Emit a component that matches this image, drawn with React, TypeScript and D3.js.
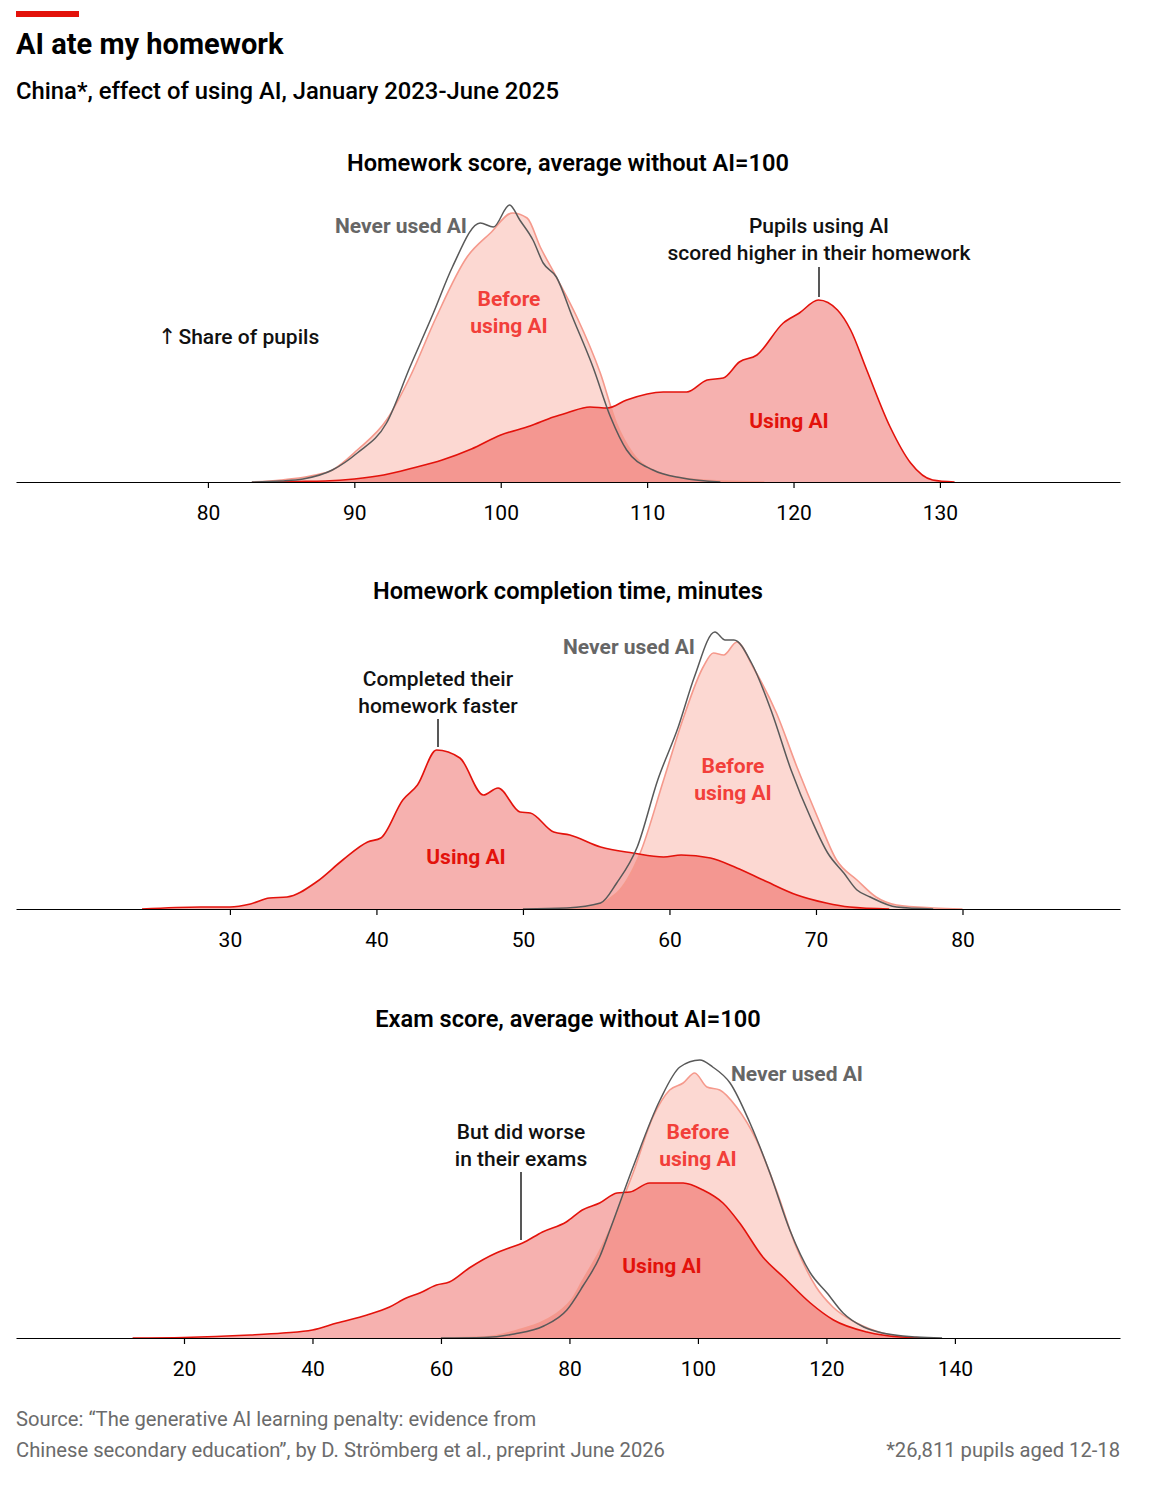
import React, { useEffect, useRef } from 'react';
import * as d3 from 'd3';

type Pt = [number, number];

// share of pupils (%)
const scoreNever: Pt[] = [[83, 0], [85, 0.01], [86.5, 0.03], [88.5, 0.12], [90.2, 0.29], [92.2, 0.59], [93.8, 1.15], [95.4, 1.69], [96.7, 2.15], [98.6, 2.59], [99.5, 2.55], [100.6, 2.77], [101.3, 2.62], [102.2, 2.42], [102.9, 2.19], [103.8, 2.05], [104.9, 1.65], [106.3, 1.15], [107.5, 0.65], [108.6, 0.32], [110.4, 0.12], [112.4, 0.04], [115, 0]];
const scoreBefore: Pt[] = [[83, 0], [85, 0.02], [87, 0.06], [88.5, 0.12], [90.2, 0.32], [92.2, 0.62], [93.8, 1.05], [95.6, 1.65], [97.7, 2.25], [99.3, 2.49], [100.8, 2.69], [101.8, 2.64], [102.7, 2.35], [103.8, 2.05], [105.2, 1.65], [106.8, 1.09], [107.9, 0.59], [109, 0.29], [110.9, 0.09], [112.4, 0.04], [115, 0.01], [118, 0]];
const scoreUsing: Pt[] = [[84, 0], [86, 0.005], [88, 0.01], [90, 0.03], [92, 0.07], [94, 0.14], [96, 0.22], [98, 0.33], [100, 0.47], [102, 0.56], [103.6, 0.65], [104.5, 0.69], [106.1, 0.75], [107.3, 0.74], [108.6, 0.82], [111.1, 0.9], [112.7, 0.9], [114.1, 1.02], [115.2, 1.04], [116.3, 1.2], [117.5, 1.27], [119.3, 1.59], [120.4, 1.69], [121.7, 1.82], [123, 1.72], [123.9, 1.52], [125, 1.12], [126.6, 0.55], [128, 0.19], [129.5, 0.02], [131, 0]];

const timeNever: Pt[] = [[50, 0], [53, 0.01], [55.3, 0.06], [56.4, 0.26], [57.8, 0.62], [59.2, 1.29], [60.6, 1.82], [61.7, 2.32], [63.1, 2.77], [63.8, 2.69], [64.4, 2.69], [65.6, 2.46], [67, 1.96], [68.3, 1.39], [69.7, 0.89], [70.8, 0.56], [71.9, 0.36], [72.8, 0.19], [73.7, 0.12], [75.5, 0.02], [78, 0]];
const timeBefore: Pt[] = [[50, 0], [54.1, 0.01], [56.4, 0.16], [58, 0.56], [59.6, 1.29], [60.9, 1.89], [62.3, 2.42], [63, 2.56], [63.7, 2.54], [64.6, 2.67], [65.7, 2.42], [67.3, 1.96], [68.7, 1.42], [70.1, 0.92], [71.4, 0.49], [72.8, 0.29], [74.1, 0.12], [75.5, 0.04], [78, 0.01], [80, 0]];
const timeUsing: Pt[] = [[24, 0], [28, 0.02], [30, 0.02], [31.4, 0.05], [32.7, 0.11], [33.9, 0.12], [35.9, 0.27], [37.7, 0.49], [39.4, 0.67], [40.3, 0.71], [41.8, 1.09], [42.8, 1.24], [44.1, 1.59], [45.7, 1.51], [47.3, 1.14], [48.3, 1.21], [49.8, 0.97], [50.5, 0.96], [52.1, 0.77], [53.2, 0.74], [55.3, 0.62], [57.5, 0.56], [59.6, 0.52], [60.8, 0.54], [62.8, 0.51], [64.6, 0.41], [66.4, 0.29], [68.7, 0.14], [70.7, 0.06], [72.3, 0.02], [75, 0]];

const examNever: Pt[] = [[60, 0], [66.7, 0.005], [71.4, 0.04], [76, 0.12], [79.6, 0.28], [82.1, 0.52], [84.7, 0.81], [86.3, 1.08], [89.9, 1.71], [94.1, 2.38], [97.2, 2.71], [100.3, 2.78], [102.3, 2.71], [105, 2.55], [108.1, 2.15], [111.2, 1.65], [114.3, 1.08], [117.5, 0.65], [120.1, 0.45], [122.6, 0.25], [125.8, 0.11], [128.7, 0.05], [134, 0.01], [138, 0]];
const examBefore: Pt[] = [[60, 0], [66.7, 0.01], [72, 0.08], [76, 0.17], [78.5, 0.27], [80.3, 0.38], [82, 0.57], [85, 0.91], [89.9, 1.65], [93, 2.21], [95.6, 2.48], [97.7, 2.55], [99.5, 2.65], [101.4, 2.51], [103.4, 2.48], [106, 2.31], [109.1, 1.98], [112.2, 1.48], [115.3, 0.91], [118.4, 0.51], [121, 0.31], [124.7, 0.15], [128.7, 0.05], [134, 0]];
const examUsing: Pt[] = [[12, 0], [20, 0.005], [30.3, 0.03], [35.4, 0.05], [40, 0.08], [43.8, 0.15], [48.5, 0.23], [52, 0.31], [54.6, 0.4], [56.7, 0.45], [59.3, 0.53], [61.3, 0.56], [64.4, 0.7], [68.6, 0.85], [70.6, 0.9], [72.7, 0.95], [75.8, 1.06], [79.5, 1.16], [82, 1.28], [84.7, 1.35], [87.4, 1.45], [89.4, 1.46], [92.5, 1.55], [96.1, 1.55], [97.7, 1.55], [100.8, 1.48], [103.9, 1.35], [106.5, 1.15], [110.1, 0.81], [113.3, 0.61], [117.5, 0.35], [121.1, 0.18], [126.3, 0.06], [131.5, 0.01], [136, 0]];

const scoreTicks = [80, 90, 100, 110, 120, 130];
const timeTicks = [30, 40, 50, 60, 70, 80];
const examTicks = [20, 40, 60, 80, 100, 120, 140];

const colors = {
  red: '#e3120b',
  before: '#fcd8d2',
  beforeLine: '#f5998c',
  beforeText: '#f23f3a',
  never: '#595959',
  neverText: '#666666',
  footer: '#6b6b6b',
};

const font = 'Roboto, "Noto Sans", sans-serif';

type Note = { text: string[]; x: number; y: number; anchor: string; color: string; weight: number; line?: [number, number] };

type Panel = {
  title: string;
  axisY: number;
  titleY: number;
  domain: [number, number];
  ticks: number[];
  never: Pt[];
  before: Pt[];
  using: Pt[];
  notes: Note[];
};

const panels: Panel[] = [
  {
    title: 'Homework score, average without AI=100', titleY: 171, axisY: 482,
    domain: [66.89, 142.3], ticks: scoreTicks, never: scoreNever, before: scoreBefore, using: scoreUsing,
    notes: [
      { text: ['Never used AI'], x: 467, y: 233, anchor: 'end', color: colors.neverText, weight: 700 },
      { text: ['Before', 'using AI'], x: 509, y: 306, anchor: 'middle', color: colors.beforeText, weight: 700 },
      { text: ['Using AI'], x: 789, y: 428, anchor: 'middle', color: colors.red, weight: 700 },
      { text: ['Pupils using AI', 'scored higher in their homework'], x: 819, y: 233, anchor: 'middle', color: '#111', weight: 500, line: [267, 297] },
    ],
  },
  {
    title: 'Homework completion time, minutes', titleY: 599, axisY: 909,
    domain: [15.4, 90.75], ticks: timeTicks, never: timeNever, before: timeBefore, using: timeUsing,
    notes: [
      { text: ['Never used AI'], x: 695, y: 654, anchor: 'end', color: colors.neverText, weight: 700 },
      { text: ['Before', 'using AI'], x: 733, y: 773, anchor: 'middle', color: colors.beforeText, weight: 700 },
      { text: ['Using AI'], x: 466, y: 864, anchor: 'middle', color: colors.red, weight: 700 },
      { text: ['Completed their', 'homework faster'], x: 438, y: 686, anchor: 'middle', color: '#111', weight: 500, line: [719, 747] },
    ],
  },
  {
    title: 'Exam score, average without AI=100', titleY: 1027, axisY: 1338,
    domain: [-6.15, 165.7], ticks: examTicks, never: examNever, before: examBefore, using: examUsing,
    notes: [
      { text: ['Never used AI'], x: 731, y: 1081, anchor: 'start', color: colors.neverText, weight: 700 },
      { text: ['Before', 'using AI'], x: 698, y: 1139, anchor: 'middle', color: colors.beforeText, weight: 700 },
      { text: ['Using AI'], x: 662, y: 1273, anchor: 'middle', color: colors.red, weight: 700 },
      { text: ['But did worse', 'in their exams'], x: 521, y: 1139, anchor: 'middle', color: '#111', weight: 500, line: [1172, 1240] },
    ],
  },
];

const width = 1156;
const height = 1500;
const left = 16;
const right = 1120;

export default function App() {
  const ref = useRef<SVGSVGElement>(null);

  useEffect(() => {
    document.body.style.margin = '0';
    if (!ref.current) return;
    const svg = d3.select(ref.current);
    svg.selectAll('*').remove();
    svg.attr('font-family', font);

    // header
    svg.append('rect').attr('x', 16).attr('y', 11).attr('width', 63).attr('height', 6).attr('fill', colors.red);
    svg.append('text').attr('x', 16).attr('y', 54).attr('font-size', 29).attr('font-weight', 700).attr('fill', '#000').text('AI ate my homework');
    svg.append('text').attr('x', 16).attr('y', 99).attr('font-size', 23.8).attr('font-weight', 500).attr('fill', '#000').text('China*, effect of using AI, January 2023-June 2025');

    panels.forEach((p, pi) => {
      const x = d3.scaleLinear().domain(p.domain).range([left, right]);
      const y = d3.scaleLinear().domain([0, 3]).range([p.axisY, p.axisY - 300]);
      const area = d3.area<Pt>().x(d => x(d[0])).y0(p.axisY).y1(d => y(d[1])).curve(d3.curveMonotoneX);
      const line = d3.line<Pt>().x(d => x(d[0])).y(d => y(d[1])).curve(d3.curveMonotoneX);
      const g = svg.append('g');

      g.append('text').attr('x', 568).attr('y', p.titleY).attr('text-anchor', 'middle').attr('font-size', 23.6).attr('font-weight', 600).attr('fill', '#000').text(p.title);

      g.append('path').datum(p.before).attr('d', area as any).attr('fill', colors.before);
      g.append('path').datum(p.using).attr('d', area as any).attr('fill', colors.red).attr('fill-opacity', 0.33);
      g.append('path').datum(p.before).attr('d', line as any).attr('fill', 'none').attr('stroke', colors.beforeLine).attr('stroke-width', 1.6);
      g.append('path').datum(p.using).attr('d', line as any).attr('fill', 'none').attr('stroke', colors.red).attr('stroke-width', 1.6);
      g.append('path').datum(p.never).attr('d', line as any).attr('fill', 'none').attr('stroke', colors.never).attr('stroke-width', 1.5);

      const ax = g.append('g').attr('transform', `translate(0,${p.axisY})`)
        .call(d3.axisBottom(x).tickValues(p.ticks).tickSize(6).tickSizeOuter(0).tickPadding(17).tickFormat(d3.format('d') as any));
      ax.attr('font-family', font);
      ax.select('.domain').attr('stroke', '#000').attr('stroke-width', 1.2);
      ax.selectAll('.tick line').attr('stroke', '#000').attr('stroke-width', 1.2);
      ax.selectAll('.tick text').attr('font-size', 21).attr('fill', '#000');

      if (pi === 0) {
        const s = g.append('text').attr('x', 158).attr('y', 344).attr('font-size', 21).attr('font-weight', 500).attr('fill', '#111');
        s.append('tspan').attr('font-family', '"DejaVu Sans", sans-serif').attr('font-weight', 400).attr('font-size', 22).text('↑');
        s.append('tspan').attr('dx', 2).text('Share of pupils');
      }

      p.notes.forEach(n => {
        const t = g.append('text').attr('x', n.x).attr('y', n.y).attr('text-anchor', n.anchor)
          .attr('font-size', 21).attr('font-weight', n.weight).attr('fill', n.color);
        n.text.forEach((s, i) => t.append('tspan').attr('x', n.x).attr('y', n.y + i * 27).text(s));
        if (n.line) g.append('line').attr('x1', n.x).attr('x2', n.x).attr('y1', n.line[0]).attr('y2', n.line[1]).attr('stroke', '#111').attr('stroke-width', 1.4);
      });
    });

    // footer
    const foot = svg.append('text').attr('font-size', 20.2).attr('fill', colors.footer);
    foot.append('tspan').attr('x', 16).attr('y', 1426).text('Source: “The generative AI learning penalty: evidence from');
    foot.append('tspan').attr('x', 16).attr('y', 1457).text('Chinese secondary education”, by D. Strömberg et al., preprint June 2026');
    svg.append('text').attr('x', 1120).attr('y', 1457).attr('text-anchor', 'end').attr('font-size', 20.2).attr('fill', colors.footer).text('*26,811 pupils aged 12-18');
  }, []);

  return <svg ref={ref} width={width} height={height} style={{ display: 'block', background: '#fff' }} />;
}
